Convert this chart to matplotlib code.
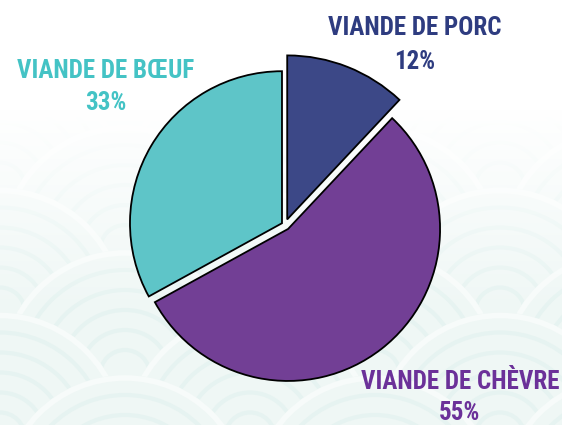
import numpy as np
import matplotlib.pyplot as plt
from matplotlib import font_manager
from matplotlib.colors import to_rgb
from matplotlib.patches import Circle

# parts de consommation, dans l'ordre horaire depuis midi
labels = ['VIANDE DE PORC', 'VIANDE DE CHÈVRE', 'VIANDE DE BŒUF']
parts = [12, 55, 33]
slice_colors = ['#3c4887', '#723f95', '#5ec5c8']
text_colors = ['#2e3c80', '#6b3199', '#44c3c5']

W, H = 562, 425

# police étroite si disponible
names = {f.name for f in font_manager.fontManager.ttflist}
label_font = 'DejaVu Sans'
for fam in ['Liberation Sans Narrow', 'Roboto Condensed', 'DejaVu Sans']:
    if fam in names:
        label_font = fam
        break

fig = plt.figure(figsize=(W / 100, H / 100), dpi=100)
ax = fig.add_axes([0, 0, 1, 1])

# fond : dégradé blanc -> vert d'eau
t = np.linspace(0, 1, H)[:, None, None]
top, bottom = np.array(to_rgb('#ffffff')), np.array(to_rgb('#e4f2ef'))
bg = np.repeat(top * (1 - t) + bottom * t, 2, axis=1)
ax.imshow(bg, extent=(0, W, 0, H), origin='upper', aspect='auto', zorder=0)

# motif de vagues (seigaiha), rangées du haut vers le bas
R = 125
row_ys = np.arange(-R / 2, 520, R / 2)
for i, cy_img in enumerate(row_ys):
    cy = H - cy_img
    off = (i % 2) * R
    z = 0.1 + i * 0.01
    for cx in np.arange(-2 * R + off, W + 2 * R, 2 * R):
        ax.add_patch(Circle((cx, cy), R, facecolor='#e5f2ef', edgecolor='none', zorder=z))
        ax.add_patch(Circle((cx, cy), R - 3, facecolor='none', edgecolor='#f2f9f7', lw=4, zorder=z))
        for rr in np.arange(R - 20, 10, -20):
            ax.add_patch(Circle((cx, cy), rr, facecolor='none', edgecolor='#d6ece8', lw=3, zorder=z))

# le motif s'estompe vers le haut
yy = np.linspace(0, 1, H)
fade = np.clip(1 - (yy * H - 110) / 330, 0.4, 1.0)
overlay = np.ones((H, 2, 4))
overlay[:, :, 3] = fade[:, None]
ax.imshow(overlay, extent=(0, W, 0, H), origin='upper', aspect='auto', zorder=0.9)

# camembert (explode en unités de données, ici des pixels)
r = 152
wedges, _ = ax.pie(parts, colors=slice_colors, startangle=90, counterclock=False,
                   radius=r, center=(285, H - 225),
                   explode=[6, 5, 3.5],
                   wedgeprops=dict(edgecolor='black', linewidth=1.3))
for w in wedges:
    w.set_zorder(2)
wedges[0].set_radius(164)

ax.set_xlim(0, W)
ax.set_ylim(0, H)
ax.set_aspect('equal')
ax.axis('off')

# étiquettes : nom puis pourcentage
fs = 18
label_pos = [(415, 35, 69), (460, 389, 420), (106, 78, 110)]
for name, pct, col, (x, y1, y2) in zip(labels, parts, text_colors, label_pos):
    ax.text(x, H - y1, name, color=col, ha='center', va='baseline',
            fontsize=fs, fontweight='bold', family=label_font, zorder=3)
    ax.text(x, H - y2, f'{pct}%', color=col, ha='center', va='baseline',
            fontsize=fs, fontweight='bold', family=label_font, zorder=3)

fig.savefig('out.png', dpi=100)
